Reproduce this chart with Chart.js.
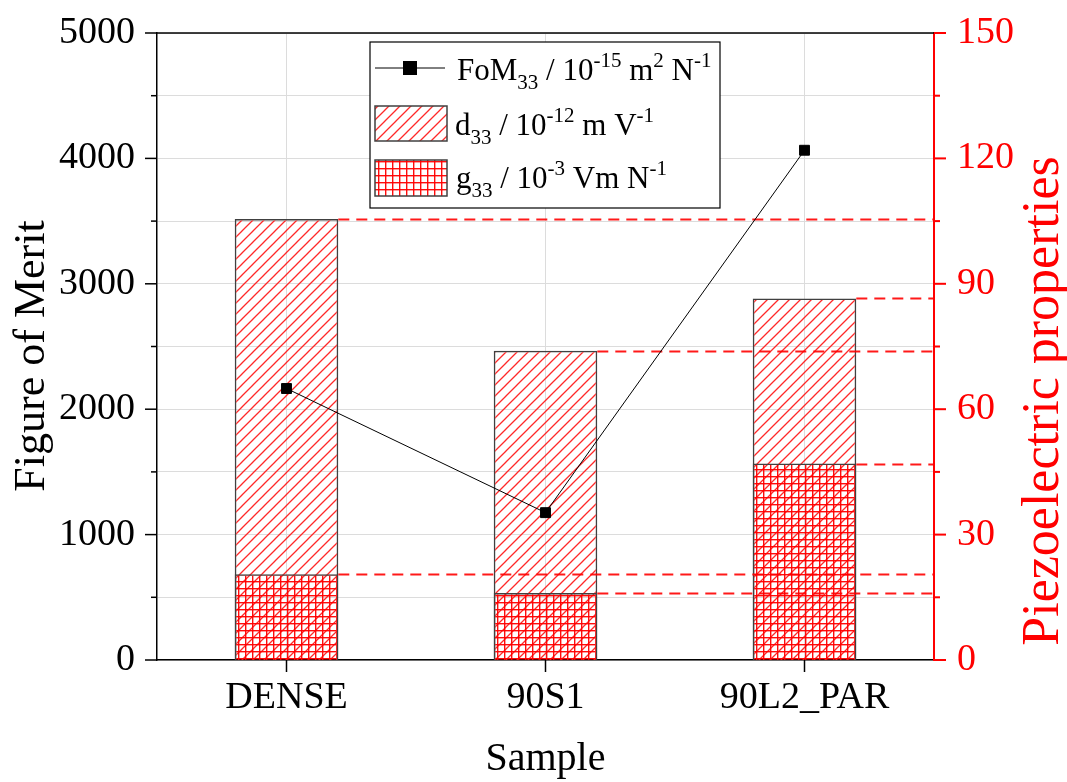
<!DOCTYPE html>
<html>
<head>
<meta charset="utf-8">
<script src="https://cdn.jsdelivr.net/npm/chart.js@4"></script>
<style>
  body { margin: 0; background: #fff; }
  canvas { display: block; }
</style>
</head>
<body>
<canvas id="chart" width="1067" height="782"></canvas>
<script>
// data
const samples = ['DENSE', '90S1', '90L2_PAR'];
const fom33 = [2165, 1175, 4065];   // 10^-15 m2 N-1, left axis
const d33 = [105.5, 74, 86.5];      // 10^-12 m V-1, right axis
const g33 = [20.5, 16, 47];         // 10^-3 Vm N-1, right axis

const SERIF = '"Liberation Serif", "Times New Roman", serif';
const RED = '#ff0000';

const canvas = document.getElementById('chart');
const ctx0 = canvas.getContext('2d');

// hatch fills
function makePattern(size, draw) {
  const c = document.createElement('canvas');
  c.width = c.height = size;
  draw(c.getContext('2d'), size);
  return ctx0.createPattern(c, 'repeat');
}
const diagFill = makePattern(11, (g, s) => {
  g.strokeStyle = 'rgba(255,30,30,0.95)';
  g.lineWidth = 1.3;
  g.beginPath();
  g.moveTo(0, s); g.lineTo(s, 0);
  g.moveTo(-1, 1); g.lineTo(1, -1);
  g.moveTo(s - 1, s + 1); g.lineTo(s + 1, s - 1);
  g.stroke();
});
const gridFill = makePattern(7, (g, s) => {
  g.fillStyle = 'rgba(255,0,0,0.95)';
  g.fillRect(0, 0, s, 1.4);
  g.fillRect(0, 0, 1.4, s);
});

// dashed guide lines from each bar top to the right axis
const guideLines = {
  id: 'guideLines',
  beforeDatasetDraw(chart, args) {
    if (args.index !== 0) return;
    const ctx = chart.ctx;
    const right = chart.chartArea.right;
    ctx.save();
    ctx.strokeStyle = 'rgba(255,0,0,0.9)';
    ctx.lineWidth = 2.2;
    ctx.setLineDash([11, 7]);
    [1, 2].forEach(di => {
      chart.getDatasetMeta(di).data.forEach(bar => {
        const y = Math.round(bar.y) + 0.5;
        ctx.beginPath();
        ctx.moveTo(bar.x + bar.width / 2, y);
        ctx.lineTo(right, y);
        ctx.stroke();
      });
    });
    ctx.restore();
  }
};

function textRuns(ctx, x, y, parts) {
  parts.forEach(([t, kind]) => {
    ctx.font = (kind ? '21px ' : '31px ') + SERIF;
    const dy = kind === 'sub' ? 9 : kind === 'sup' ? -13 : 0;
    ctx.fillText(t, x, y + dy);
    x += ctx.measureText(t).width;
  });
}

// ticks, frame, titles and legend
const decorations = {
  id: 'decorations',
  afterDraw(chart) {
    const ctx = chart.ctx;
    const { left, right, top, bottom } = chart.chartArea;
    const sy = chart.scales.y, sy1 = chart.scales.y1, sx = chart.scales.x;
    ctx.save();

    // top frame
    ctx.strokeStyle = '#000';
    ctx.lineWidth = 1.5;
    ctx.beginPath();
    ctx.moveTo(left, top); ctx.lineTo(right, top);
    ctx.stroke();

    // left ticks
    sy.ticks.forEach(t => {
      const y = sy.getPixelForValue(t.value);
      const len = t.value % 1000 === 0 ? 12 : 6;
      ctx.beginPath(); ctx.moveTo(left - len, y); ctx.lineTo(left, y); ctx.stroke();
    });
    // bottom ticks
    sx.ticks.forEach((t, i) => {
      const x = sx.getPixelForTick(i);
      ctx.beginPath(); ctx.moveTo(x, bottom); ctx.lineTo(x, bottom + 12); ctx.stroke();
    });
    // right ticks
    ctx.strokeStyle = RED;
    ctx.lineWidth = 2;
    sy1.ticks.forEach(t => {
      const y = sy1.getPixelForValue(t.value);
      const len = t.value % 30 === 0 ? 12 : 6;
      ctx.beginPath(); ctx.moveTo(right, y); ctx.lineTo(right + len, y); ctx.stroke();
    });

    // axis titles
    ctx.textAlign = 'center';
    ctx.textBaseline = 'alphabetic';
    ctx.fillStyle = '#000';
    ctx.font = '40px ' + SERIF;
    ctx.fillText('Sample', (left + right) / 2, 770);
    ctx.save();
    ctx.font = '44px ' + SERIF;
    ctx.translate(44, 356);
    ctx.rotate(-Math.PI / 2);
    ctx.fillText('Figure of Merit', 0, 0);
    ctx.restore();
    ctx.save();
    ctx.font = '52px ' + SERIF;
    ctx.fillStyle = RED;
    ctx.translate(1058, 401);
    ctx.rotate(-Math.PI / 2);
    ctx.fillText('Piezoelectric properties', 0, 0);
    ctx.restore();

    // legend
    const bx = 370, by = 42, bw = 350, bh = 166;
    ctx.fillStyle = '#fff';
    ctx.fillRect(bx, by, bw, bh);
    ctx.strokeStyle = '#000';
    ctx.lineWidth = 1.2;
    ctx.strokeRect(bx, by, bw, bh);

    ctx.lineWidth = 1;
    ctx.beginPath(); ctx.moveTo(375, 68); ctx.lineTo(445, 68); ctx.stroke();
    ctx.fillStyle = '#000';
    ctx.fillRect(403, 61, 14, 14);

    ctx.fillStyle = diagFill;
    ctx.fillRect(375, 106, 72, 35);
    ctx.fillStyle = gridFill;
    ctx.fillRect(375, 160, 72, 36);
    ctx.strokeStyle = '#404040';
    ctx.lineWidth = 1.5;
    ctx.strokeRect(375, 106, 72, 35);
    ctx.strokeRect(375, 160, 72, 36);

    ctx.fillStyle = '#000';
    ctx.textAlign = 'left';
    textRuns(ctx, 457, 80, [['FoM'], ['33', 'sub'], [' / 10'], ['-15', 'sup'], [' m'], ['2', 'sup'], [' N'], ['-1', 'sup']]);
    textRuns(ctx, 455, 135, [['d'], ['33', 'sub'], [' / 10'], ['-12', 'sup'], [' m V'], ['-1', 'sup']]);
    textRuns(ctx, 456, 188, [['g'], ['33', 'sub'], [' / 10'], ['-3', 'sup'], [' Vm N'], ['-1', 'sup']]);

    ctx.restore();
  }
};

new Chart(canvas, {
  data: {
    labels: samples,
    datasets: [
      {
        type: 'line',
        label: 'FoM33',
        data: fom33,
        yAxisID: 'y',
        borderColor: '#000',
        backgroundColor: '#000',
        borderWidth: 1,
        pointStyle: 'rect',
        pointRadius: 7,
        order: 0
      },
      {
        type: 'bar',
        label: 'd33',
        data: d33,
        yAxisID: 'y1',
        backgroundColor: diagFill,
        borderColor: '#404040',
        borderWidth: 1.5,
        grouped: false,
        barPercentage: 0.4,
        categoryPercentage: 1,
        order: 2
      },
      {
        type: 'bar',
        label: 'g33',
        data: g33,
        yAxisID: 'y1',
        backgroundColor: gridFill,
        borderColor: '#404040',
        borderWidth: 1.5,
        grouped: false,
        barPercentage: 0.4,
        categoryPercentage: 1,
        order: 1
      }
    ]
  },
  options: {
    responsive: false,
    animation: false,
    devicePixelRatio: 1,
    layout: { padding: { top: 33, left: 0, right: 0, bottom: 0 } },
    plugins: {
      legend: { display: false },
      tooltip: { enabled: false }
    },
    scales: {
      x: {
        type: 'category',
        offset: true,
        grid: { offset: false, color: '#dcdcdc', lineWidth: 1, drawTicks: false },
        border: { color: '#000', width: 1.5 },
        ticks: { color: '#000', font: { family: SERIF, size: 38 }, padding: 15, maxRotation: 0 },
        afterFit: s => { s.height = 122; s.paddingLeft = 0; s.paddingRight = 0; }
      },
      y: {
        position: 'left',
        min: 0,
        max: 5000,
        grid: { color: '#dcdcdc', lineWidth: 1, drawTicks: false },
        border: { color: '#000', width: 1.5 },
        ticks: {
          stepSize: 500,
          autoSkip: false,
          color: '#000',
          font: { family: SERIF, size: 38 },
          padding: 22,
          callback: v => (v % 1000 === 0 ? v : '')
        },
        afterFit: s => { s.width = 157; s.paddingTop = 0; s.paddingBottom = 0; }
      },
      y1: {
        position: 'right',
        min: 0,
        max: 150,
        grid: { display: false, drawTicks: false },
        border: { color: RED, width: 2 },
        ticks: {
          stepSize: 15,
          autoSkip: false,
          color: RED,
          font: { family: SERIF, size: 38 },
          padding: 23,
          callback: v => (v % 30 === 0 ? v : '')
        },
        afterFit: s => { s.width = 133; s.paddingTop = 0; s.paddingBottom = 0; }
      }
    }
  },
  plugins: [guideLines, decorations]
});
</script>
</body>
</html>
